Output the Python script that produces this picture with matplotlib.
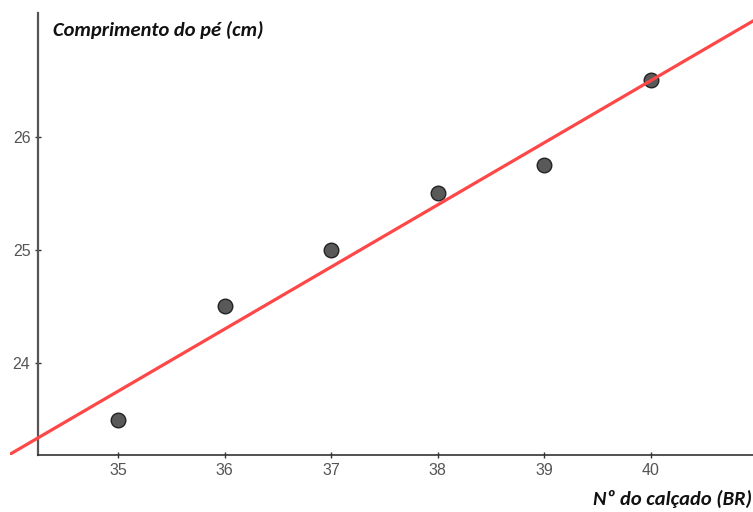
import matplotlib
matplotlib.use("Agg")
import matplotlib.pyplot as plt
import numpy as np

shoe_size = [35, 36, 37, 38, 39, 40]
foot_length = [23.5, 24.5, 25.0, 25.5, 25.75, 26.5]
x_ticks = [35, 36, 37, 38, 39, 40]
y_ticks = [24, 25, 26]

fig = plt.figure(figsize=(7.53, 5.12), dpi=100)
ax = fig.add_axes([10/753, 57/512, 743/753, 442/512])

xmin, xmax = 33.987, 40.957
ymin, ymax = 23.186, 27.097
ax.set_xlim(xmin, xmax)
ax.set_ylim(ymin, ymax)

slope, intercept = np.polyfit(shoe_size, foot_length, 1)
xl = np.array([xmin, xmax])
ax.plot(xl, slope * xl + intercept, color="#ff4747", lw=2.3, zorder=3)

ax.scatter(shoe_size, foot_length, s=110, color="#595959", edgecolors="#222222",
           linewidths=1.0, zorder=2)

for s in ["top", "right"]:
    ax.spines[s].set_visible(False)
ax.spines["left"].set_position(("data", 34.25))
ax.spines["bottom"].set_position(("data", ymin))
ax.spines["bottom"].set_bounds(34.25, xmax)
ax.spines["left"].set_color("#555555")
ax.spines["left"].set_linewidth(1.6)
ax.spines["bottom"].set_color("#333333")
ax.spines["bottom"].set_linewidth(1.2)

ax.set_xticks(x_ticks)
ax.set_yticks(y_ticks)
ax.tick_params(axis="both", direction="inout", length=5, width=1, color="#333333",
               labelcolor="#555555", labelsize=11.5, pad=3)
for lab in ax.get_xticklabels() + ax.get_yticklabels():
    lab.set_family("Liberation Sans")

fig.text(53/753, 1 - 30/512, "Comprimento do pé (cm)", family="Carlito",
         fontweight="bold", fontstyle="italic", fontsize=14.8, color="#111111",
         va="center", ha="left")
fig.text(752/753, 1 - 499/512, "Nº do calçado (BR)", family="Carlito",
         fontweight="bold", fontstyle="italic", fontsize=14.8, color="#111111",
         va="center", ha="right")

fig.savefig("out.png", dpi=100)
